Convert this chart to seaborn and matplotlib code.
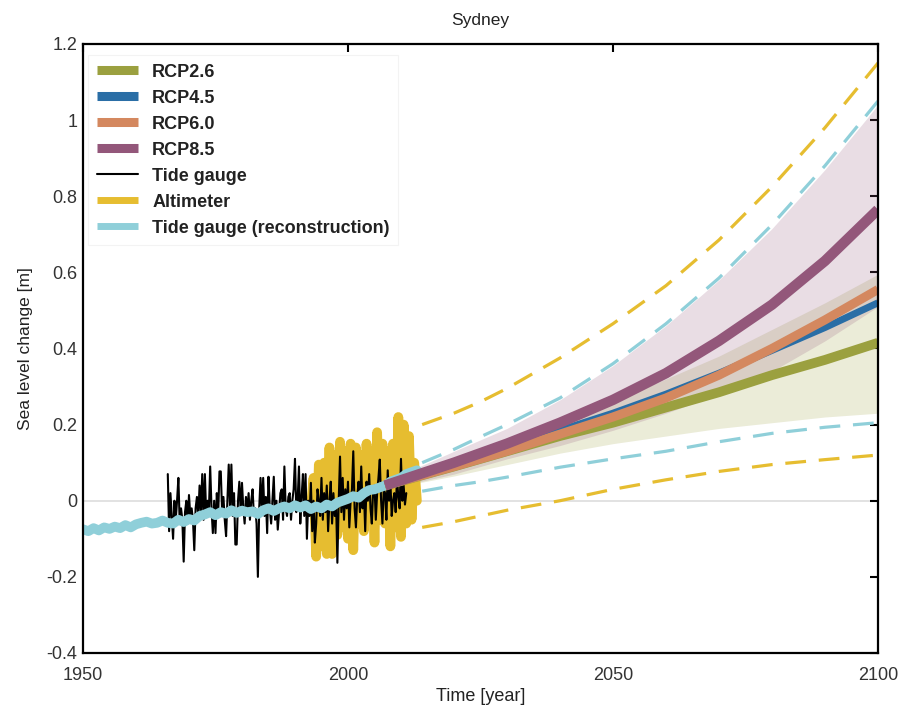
import numpy as np
import pandas as pd
import seaborn as sns
import matplotlib.pyplot as plt
from matplotlib.lines import Line2D

# Projection years and RCP central estimates / ranges
proj_years = [2007, 2020, 2030, 2040, 2050, 2060, 2070, 2080, 2090, 2100]
rcp26 = [0.04, 0.09, 0.13, 0.17, 0.205, 0.245, 0.285, 0.33, 0.37, 0.415]
rcp45 = [0.04, 0.095, 0.14, 0.185, 0.23, 0.28, 0.335, 0.395, 0.455, 0.52]
rcp60 = [0.04, 0.09, 0.13, 0.175, 0.22, 0.27, 0.33, 0.40, 0.475, 0.555]
rcp85 = [0.04, 0.10, 0.15, 0.205, 0.265, 0.335, 0.42, 0.515, 0.63, 0.765]
rcp26_lo = [0.03, 0.065, 0.095, 0.125, 0.15, 0.17, 0.19, 0.205, 0.22, 0.23]
rcp26_hi = [0.05, 0.11, 0.155, 0.205, 0.26, 0.32, 0.38, 0.45, 0.52, 0.595]
rcp85_lo = [0.03, 0.07, 0.11, 0.145, 0.185, 0.23, 0.28, 0.34, 0.42, 0.51]
rcp85_hi = [0.05, 0.13, 0.19, 0.265, 0.355, 0.46, 0.58, 0.715, 0.87, 1.04]

# Dashed envelopes
dash_years = [2014, 2020, 2025, 2030, 2040, 2050, 2060, 2070, 2080, 2090, 2100]
alt_hi = [0.20, 0.23, 0.26, 0.295, 0.375, 0.465, 0.565, 0.685, 0.825, 0.98, 1.15]
alt_lo = [-0.07, -0.055, -0.04, -0.025, 0.0, 0.03, 0.055, 0.077, 0.095, 0.108, 0.12]
rec_hi = [0.10, 0.135, 0.168, 0.20, 0.27, 0.36, 0.465, 0.585, 0.725, 0.88, 1.05]
rec_lo = [0.025, 0.04, 0.05, 0.062, 0.088, 0.11, 0.13, 0.155, 0.177, 0.193, 0.205]

# Tide gauge, 4 samples per year 1966-2011
tide = [
    0.07, -0.08, 0.02, -0.04,
    -0.10, 0.0, -0.05, 0.0,
    0.06, -0.06, -0.02, -0.05,
    -0.16, -0.03, 0.0, -0.06,
    0.015, -0.04, -0.02, -0.05,
    -0.13, -0.02, 0.01, -0.04,
    0.04, -0.03, 0.07, -0.05,
    0.07, -0.04, 0.0, -0.03,
    0.09, -0.02, -0.085, 0.0,
    -0.085, 0.02, -0.04, 0.077,
    0.077, -0.03, 0.01, -0.05,
    -0.093, 0.0, 0.095, -0.02,
    0.095, -0.04, 0.02, -0.115,
    -0.115, 0.0, 0.05, -0.03,
    0.047, -0.02, -0.06, 0.01,
    -0.03, 0.02, -0.05, 0.0,
    0.03, -0.04, -0.02, -0.06,
    -0.20, -0.02, 0.06, -0.03,
    0.06, -0.04, 0.01, -0.085,
    0.063, -0.02, -0.06, 0.0,
    0.063, -0.05, 0.0, -0.076,
    -0.03, 0.02, 0.03, -0.05,
    0.09, -0.02, -0.04, 0.01,
    0.02, -0.05, 0.0, 0.03,
    0.11, -0.03, 0.0, 0.09,
    -0.06, 0.01, 0.07, -0.04,
    0.07, -0.10, 0.0, -0.04,
    0.047, -0.08, 0.0, -0.11,
    -0.06, 0.03, 0.0, -0.04,
    0.06, -0.05, 0.02, -0.03,
    0.04, -0.08, 0.0, 0.05,
    -0.06, 0.02, -0.04, 0.0,
    -0.163, 0.0, 0.116, -0.03,
    0.06, -0.05, 0.03, -0.02,
    0.05, -0.07, 0.0, 0.03,
    0.13, -0.02, -0.07, 0.01,
    0.05, -0.03, 0.09, -0.02,
    0.03, -0.08, 0.05, 0.0,
    0.07, -0.02, -0.06, 0.03,
    0.04, -0.05, 0.02, 0.06,
    0.108, 0.0, -0.06, 0.03,
    0.02, -0.05, 0.08, 0.0,
    0.05, -0.04, 0.0, 0.02,
    -0.03, 0.06, 0.01, -0.02,
    0.11, 0.0, 0.04, -0.01,
    0.02,
]
tide_years = [1966 + i * 0.25 for i in range(len(tide))]

# Altimeter, half-yearly 1993-2013
altimeter = [
    -0.02, 0.06, -0.147, 0.095, -0.12, 0.10, -0.14, 0.14, -0.14, 0.12,
    -0.09, 0.155, -0.07, 0.13, -0.10, 0.15, -0.13, 0.14, -0.06, 0.12,
    -0.08, 0.15, -0.03, 0.13, -0.11, 0.18, -0.05, 0.15, -0.06, 0.13,
    -0.12, 0.15, -0.07, 0.22, -0.095, 0.20, -0.06, 0.17, -0.05, 0.10,
    0.0,
]
alt_years = [1993 + i * 0.5 for i in range(len(altimeter))]

# Tide gauge reconstruction, annual 1950-2013
recon = [
    -0.075, -0.08, -0.072, -0.078, -0.07, -0.074, -0.068, -0.072, -0.064, -0.07,
    -0.062, -0.058, -0.055, -0.06, -0.058, -0.052, -0.058, -0.06, -0.05, -0.056,
    -0.048, -0.052, -0.04, -0.036, -0.03, -0.038, -0.03, -0.034, -0.025, -0.032,
    -0.026, -0.03, -0.028, -0.035, -0.025, -0.02, -0.027, -0.02, -0.015, -0.02,
    -0.012, -0.018, -0.012, -0.022, -0.015, -0.02, -0.01, -0.015, -0.005, 0.0,
    0.005, 0.012, 0.008, 0.02, 0.028, 0.03, 0.035, 0.04, 0.05, 0.055,
    0.06, 0.07, 0.075, 0.08,
]
recon_years = list(range(1950, 1950 + len(recon)))

c26, c45, c60, c85 = "#9ba03f", "#2a6ea6", "#d4885f", "#93577a"
c_alt, c_rec = "#e6bd30", "#8fcfd9"

sns.set_theme(style="white")
plt.rcParams['font.family'] = ['Liberation Sans', 'DejaVu Sans']

fig = plt.figure(figsize=(9.04, 7.07), dpi=100)
ax = fig.add_axes([0.0918, 0.0764, 0.8794, 0.8614])

ax.axhline(0, color="#dddddd", lw=1.2, zorder=0)

# historical
sns.lineplot(x=alt_years, y=altimeter, ax=ax, color=c_alt, lw=7, sort=False,
             estimator=None, solid_joinstyle="round")
sns.lineplot(x=tide_years, y=tide, ax=ax, color="black", lw=1.5, sort=False, estimator=None)
sns.lineplot(x=recon_years, y=recon, ax=ax, color=c_rec, lw=7, sort=False, estimator=None)

# projection ranges
ax.fill_between(proj_years, rcp26_lo, rcp26_hi, color=c26, alpha=0.2, lw=0)
ax.fill_between(proj_years, rcp85_lo, rcp85_hi, color=c85, alpha=0.2, lw=0)

for y, c, w in [(rcp26, c26, 7), (rcp45, c45, 5), (rcp60, c60, 6.5), (rcp85, c85, 7.5)]:
    sns.lineplot(x=proj_years, y=y, ax=ax, color=c, lw=w, sort=False, estimator=None,
                 solid_capstyle="butt")

for y, c in [(alt_hi, c_alt), (alt_lo, c_alt), (rec_hi, c_rec), (rec_lo, c_rec)]:
    sns.lineplot(x=dash_years, y=y, ax=ax, color=c, lw=2.3, dashes=False, estimator=None)
    ax.lines[-1].set_dashes((6.5, 4))

ax.set_xlim(1950, 2100)
ax.set_ylim(-0.4, 1.2)
ax.set_xticks([1950, 2000, 2050, 2100])
ax.set_xticklabels(["1950", "2000", "2050", "2100"])
yt = [-0.4, -0.2, 0, 0.2, 0.4, 0.6, 0.8, 1.0, 1.2]
ax.set_yticks(yt)
ax.set_yticklabels(["-0.4", "-0.2", "0", "0.2", "0.4", "0.6", "0.8", "1", "1.2"])
ax.tick_params(direction="in", length=6, width=1.5, top=True, right=True,
               labelsize=13, colors="black", pad=4)
ax.tick_params(axis="x", labelcolor="#333333", pad=10)
ax.tick_params(axis="y", labelcolor="#333333")
for s in ax.spines.values():
    s.set_color("black")
    s.set_linewidth(1.6)

ax.set_xlabel("Time [year]", fontsize=13, color="#222222", labelpad=3)
ax.set_ylabel("Sea level change [m]", fontsize=12.5, color="#222222", labelpad=10)
ax.set_title("Sydney", fontsize=12.5, color="#222222", pad=14)

handles = [
    Line2D([], [], color=c26, lw=6.5, solid_capstyle="butt"),
    Line2D([], [], color=c45, lw=6.5, solid_capstyle="butt"),
    Line2D([], [], color=c60, lw=6.5, solid_capstyle="butt"),
    Line2D([], [], color=c85, lw=6.5, solid_capstyle="butt"),
    Line2D([], [], color="black", lw=1.5),
    Line2D([], [], color=c_alt, lw=5, solid_capstyle="butt"),
    Line2D([], [], color=c_rec, lw=5, solid_capstyle="butt"),
]
labels = ["RCP2.6", "RCP4.5", "RCP6.0", "RCP8.5", "Tide gauge", "Altimeter",
          "Tide gauge (reconstruction)"]
leg = ax.legend(handles, labels, loc="upper left", bbox_to_anchor=(0.0, 0.99),
                prop={"weight": "bold", "size": 13}, handlelength=2.3,
                handletextpad=0.78, labelspacing=0.5, borderpad=0.45,
                borderaxespad=0.3, frameon=True, fancybox=False, edgecolor="#f0f0f0")
leg.get_frame().set_linewidth(0.8)
for t in leg.get_texts():
    t.set_color("#222222")

fig.savefig("out.png", dpi=100)
